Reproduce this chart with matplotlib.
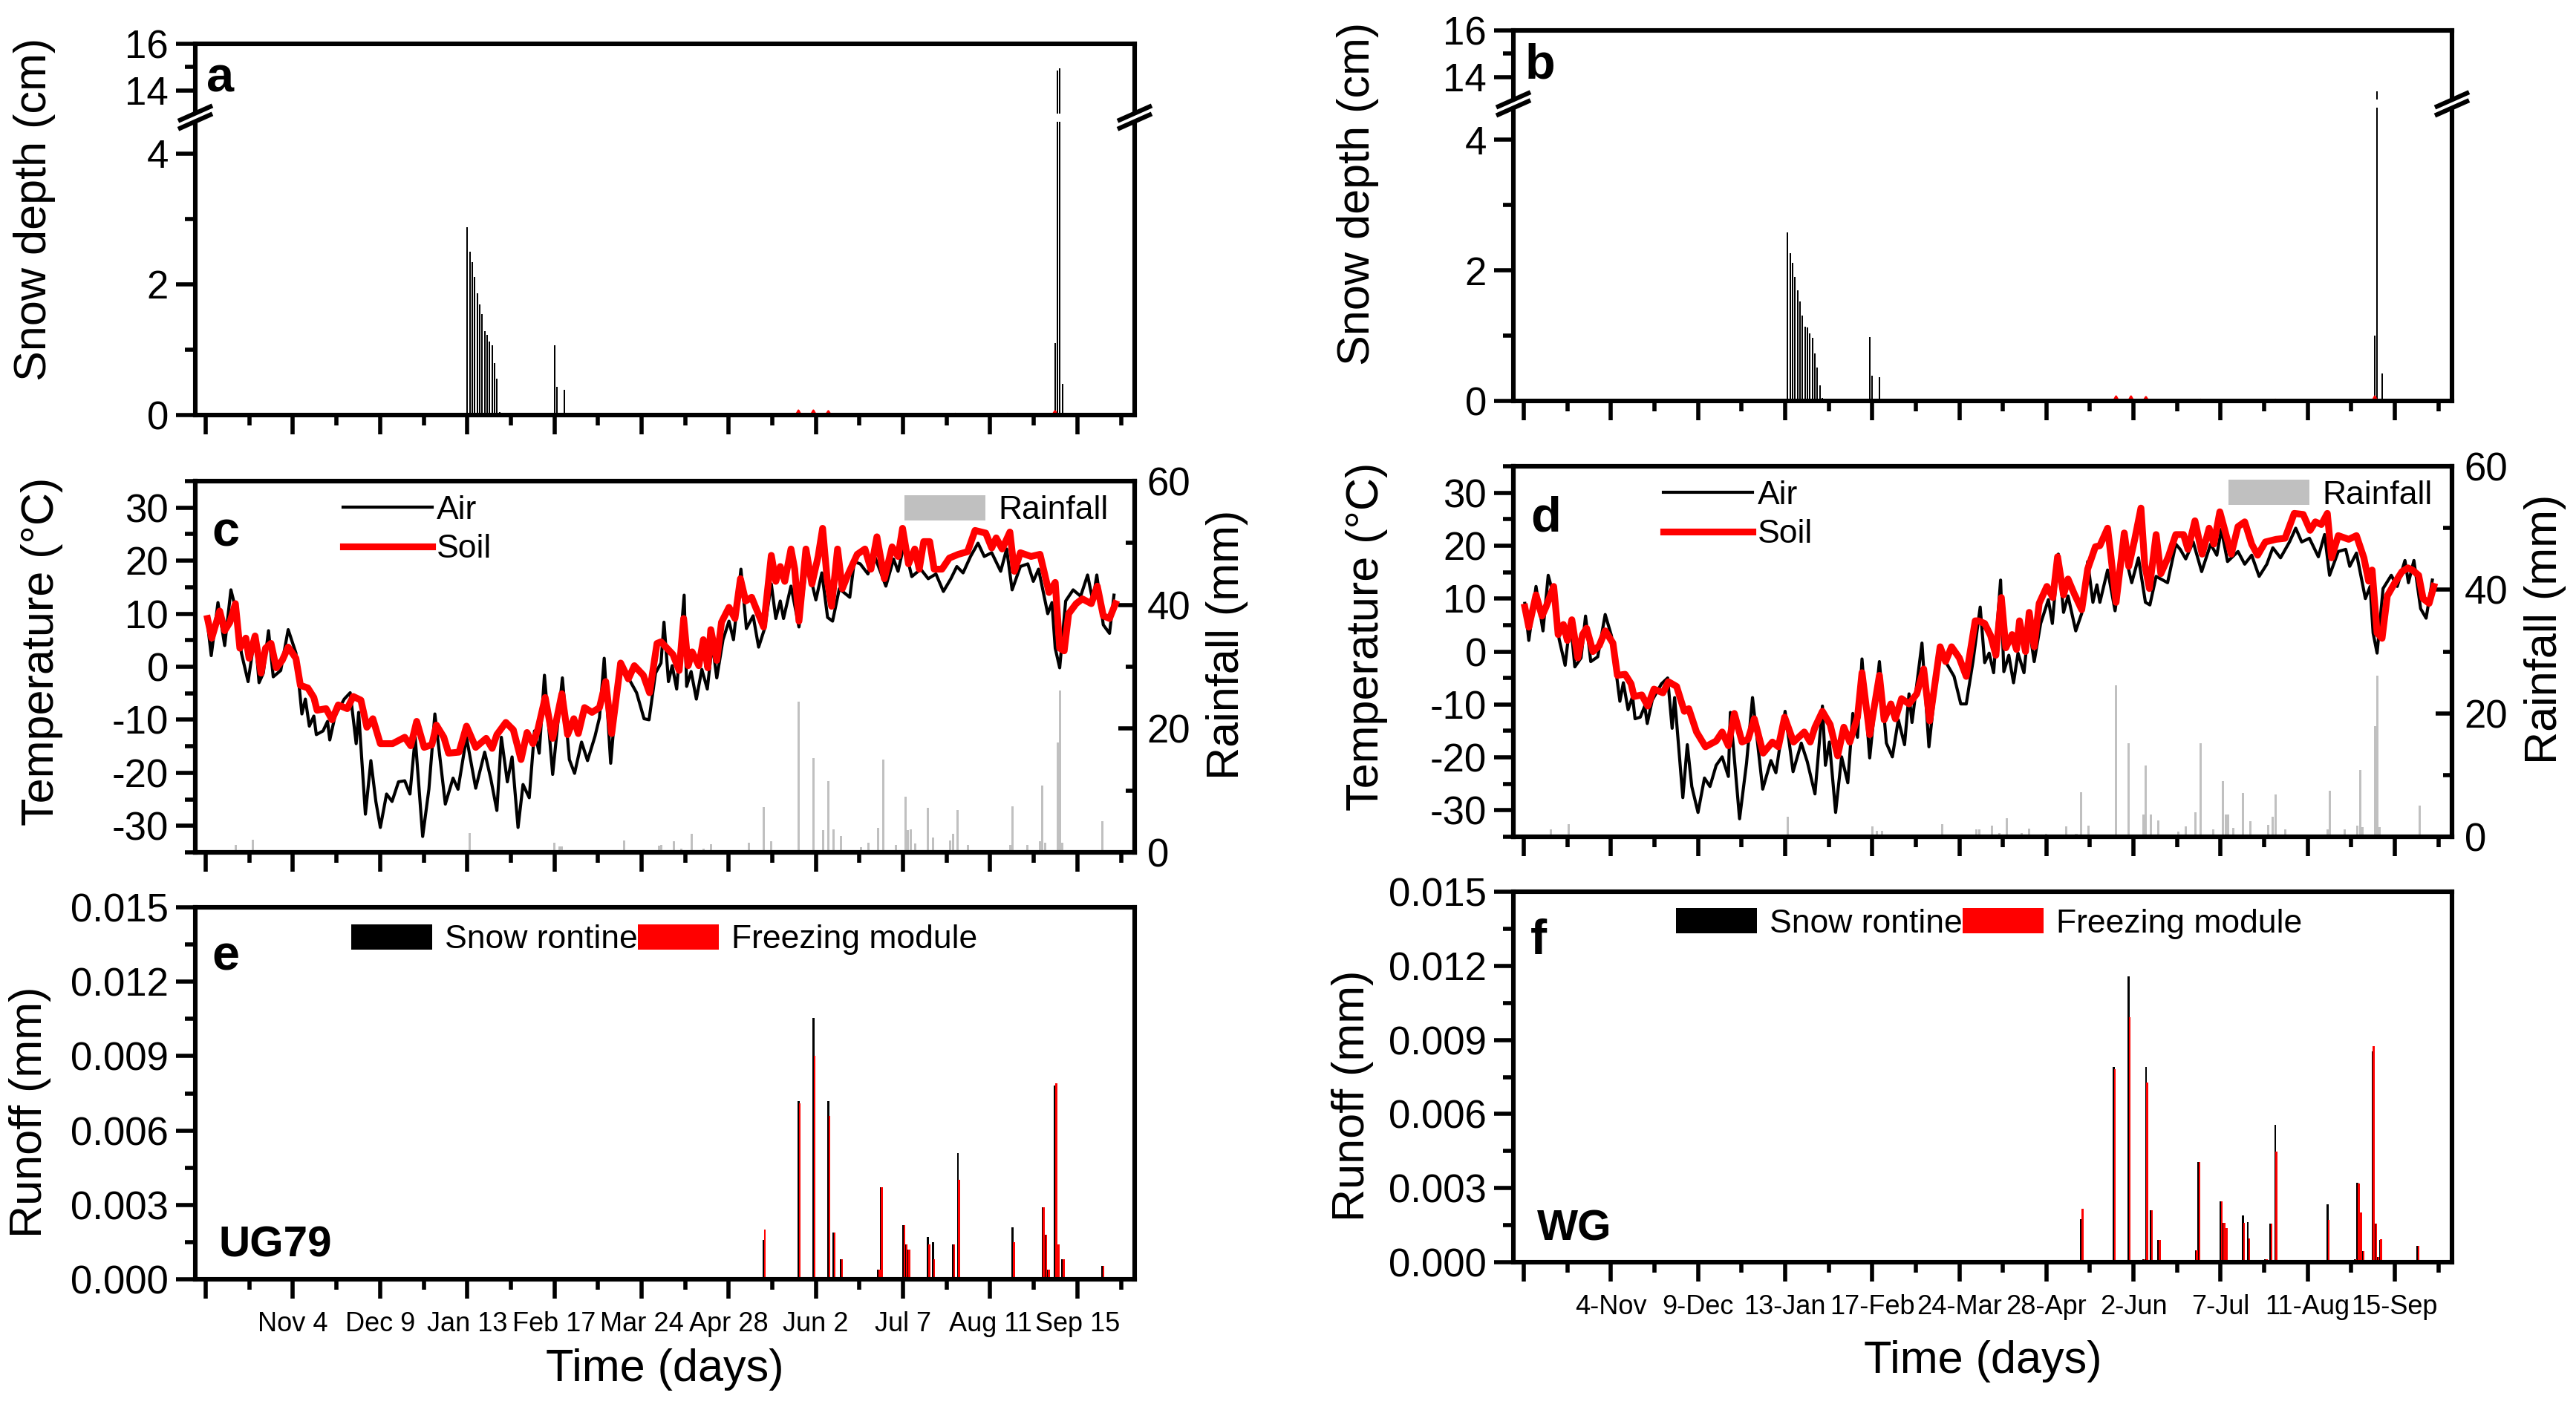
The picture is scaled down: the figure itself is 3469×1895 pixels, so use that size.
import numpy as np
import matplotlib
matplotlib.use('Agg')
import matplotlib.pyplot as plt
from matplotlib.ticker import MultipleLocator, FormatStrFormatter
from matplotlib.patches import Rectangle, Patch
from matplotlib.lines import Line2D

plt.rcParams['font.family'] = ['Liberation Sans', 'DejaVu Sans']
plt.rcParams['axes.unicode_minus'] = False

# ---------------- data ----------------
# x axis = days since 30 Sep
tick_labels_e = ['', 'Nov 4', 'Dec 9', 'Jan 13', 'Feb 17', 'Mar 24', 'Apr 28',
                 'Jun 2', 'Jul 7', 'Aug 11', 'Sep 15']
tick_labels_f = ['', '4-Nov', '9-Dec', '13-Jan', '17-Feb', '24-Mar', '28-Apr',
                 '2-Jun', '7-Jul', '11-Aug', '15-Sep']

# snow depth (cm), UG79 (a) and WG (b)
snow_a_day = [105, 106, 107, 108, 109, 110, 111, 112, 113, 114, 115, 116, 117, 118,
              140, 141, 144, 341, 342, 343, 344]
snow_a_cm = [2.87, 2.50, 2.34, 2.11, 1.86, 1.69, 1.54, 1.28, 1.23, 1.12, 1.07, 0.80, 0.56, 0.05,
             1.07, 0.43, 0.39, 1.10, 14.85, 14.95, 0.48]
snow_a_red_day = [238, 244, 250, 301, 322, 341]
snow_a_red_cm = [0.07, 0.07, 0.06, 0.02, 0.02, 0.06]

snow_b_day = [106, 107, 108, 109, 110, 111, 112, 113, 114, 115, 116, 117, 118, 119, 120,
              139, 140, 143, 342, 343, 345]
snow_b_cm = [2.58, 2.26, 2.11, 1.90, 1.69, 1.52, 1.31, 1.14, 1.13, 1.03, 0.97, 0.73, 0.51, 0.24, 0.05,
             0.98, 0.39, 0.36, 1.00, 13.4, 0.42]
snow_b_red_day = [238, 244, 250, 272, 302, 342]
snow_b_red_cm = [0.07, 0.07, 0.06, 0.02, 0.02, 0.07]

# temperature (degC), panel c
c_air_day = [0.7, 2.2, 4.9, 7.6, 10.1, 12.5, 14.3, 17.0, 19.8, 21.4, 23.1, 25.2, 27.1, 30.1, 33.1,
             36.2, 38.6, 40.0, 41.6, 43.4, 44.4, 47.1, 48.9, 49.8, 51.9, 55.6, 58.0, 60.4, 61.4,
             64.1, 66.3, 68.3, 70.1, 72.6, 74.8, 77.4, 79.9, 82.0, 84.1, 87.1, 89.6, 92.0, 96.2,
             99.3, 101.3, 104.7, 108.4, 112.0, 114.4, 116.9, 118.7, 121.1, 123.0, 125.4, 127.4,
             129.9, 132.0, 133.9, 136.0, 139.3, 143.2, 146.0, 148.1, 150.9, 153.3, 156.3, 158.1,
             160.0, 162.6, 166.0, 169.7, 173.0, 176.0, 178.0, 180.6, 182.8, 184.0, 185.8, 187.3,
             189.1, 192.1, 193.1, 194.9, 197.0, 199.2, 201.4, 203.4, 205.2, 207.7, 210.1, 211.9,
             214.9, 217.1, 219.8, 222.0, 224.4, 227.1, 228.9, 230.7, 232.0, 235.0, 238.2, 241.4,
             245.0, 247.4, 249.7, 251.7, 254.4, 258.6, 260.4, 262.8, 265.9, 268.3, 273.1, 276.2,
             278.0, 280.4, 283.5, 287.1, 290.1, 293.2, 296.2, 299.2, 301.6, 304.1, 307.1, 310.1,
             312.6, 315.6, 319.2, 321.6, 323.8, 327.1, 330.1, 332.3, 334.4, 338.1, 339.8, 341.1,
             342.9, 345.3, 348.3, 351.3, 354.1, 356.2, 357.8, 360.4, 362.9, 364.7]
c_air_t = [8.2, 2.1, 12.1, 4.0, 14.5, 10.0, 2.6, -2.8, 6.1, -3.0, -1.2, 6.8, -1.9, -0.7, 7.0,
           2.6, -8.9, -6.1, -11.2, -9.3, -12.8, -12.1, -10.3, -13.8, -9.3, -6.1, -4.9, -14.5, -8.6,
           -27.8, -17.7, -25.4, -30.3, -24.0, -25.4, -21.7, -21.5, -24.0, -13.3, -32.0, -23.1, -8.9, -25.9,
           -21.0, -23.1, -13.3, -22.9, -16.1, -21.0, -27.1, -13.3, -21.7, -17.0, -30.3, -22.2,
           -24.7, -12.1, -16.3, -1.6, -20.3, -2.1, -17.5, -20.1, -14.2, -17.7, -13.1, -9.6,
           1.6, -18.2, 0.7, -2.1, -4.9, -9.8, -10.0, -1.2, 0.7, 8.4, -2.8, 0.2,
           -4.2, 13.5, -3.7, -0.9, -6.1, -0.5, -4.2, 4.4, -2.1, 5.1, 8.6, 5.1,
           18.4, 7.2, 9.6, 3.7, 7.2, 15.6, 9.1, 12.4, 9.1, 15.2, 7.5, 19.8,
           12.6, 17.7, 9.3, 8.6, 14.7, 13.1, 19.8, 19.4, 17.5, 21.2, 15.2, 20.3,
           18.0, 23.1, 17.0, 18.4, 16.6, 17.5, 14.2, 16.6, 18.9, 17.7, 20.8, 23.3,
           20.8, 21.5, 18.0, 22.2, 14.5, 18.9, 19.4, 16.1, 18.4, 10.0, 12.1, 3.5,
           -0.2, 12.4, 14.5, 13.3, 17.3, 12.4, 17.3, 7.9, 6.3, 13.5]
c_soil_day = [0.7, 2.4, 5.6, 7.6, 9.7, 11.9, 13.7, 16.1, 17.4, 19.8, 22.2, 24.0, 26.2, 28.3, 30.7,
              33.1, 36.2, 38.0, 41.0, 43.4, 44.7, 48.3, 50.7, 53.2, 56.8, 59.2, 62.3, 64.7, 67.1,
              70.1, 75.0, 79.9, 82.3, 84.7, 87.7, 90.8, 92.6, 95.6, 97.5, 101.7, 104.7, 108.4, 112.6,
              115.0, 116.9, 120.5, 123.5, 126.6, 129.0, 131.4, 133.3, 136.3, 139.3, 143.0, 145.3,
              147.8, 149.6, 152.1, 155.1, 158.1, 160.6, 163.0, 166.6, 169.7, 172.1, 175.7, 178.2,
              181.2, 182.8, 185.2, 187.6, 190.1, 191.9, 193.7, 195.3, 198.0, 199.8, 201.6, 202.8,
              205.2, 207.1, 210.1, 212.5, 214.7, 216.8, 219.2, 221.0, 224.0, 227.1, 228.9, 230.7,
              232.5, 235.0, 236.5, 238.2, 241.0, 243.4, 245.9, 247.7, 249.5, 251.3, 253.7, 255.6,
              258.0, 261.6, 264.7, 267.1, 269.5, 272.5, 275.6, 278.0, 279.8, 282.2, 284.7, 286.5,
              288.3, 290.7, 292.5, 295.6, 298.6, 302.2, 305.9, 308.9, 313.2, 315.6, 317.4, 319.8,
              322.9, 324.7, 327.1, 331.4, 335.0, 338.6, 341.1, 342.9, 344.7, 346.5, 349.5, 352.0,
              355.6, 358.0, 360.4, 362.9, 365.3]
c_soil_t = [9.1, 5.4, 10.5, 6.8, 8.4, 11.9, 3.5, 5.4, 1.6, 5.8, -1.2, 3.5, 4.4, -0.2, 1.2,
            3.7, 1.6, -3.5, -4.0, -5.8, -8.2, -7.9, -10.0, -7.2, -7.9, -5.6, -6.3, -11.4, -9.8,
            -14.5, -14.5, -13.3, -14.9, -10.3, -15.2, -14.7, -11.0, -13.3, -16.3, -16.1, -11.2, -15.2, -13.5,
            -15.4, -12.8, -10.5, -11.9, -17.5, -12.4, -14.5, -11.9, -5.8, -13.5, -5.1, -12.8,
            -9.8, -12.6, -7.7, -8.6, -7.7, -2.8, -12.6, 0.7, -2.3, 0.2, -1.6, -4.9,
            4.4, 4.7, 3.5, 2.3, -0.7, 9.1, 0.2, 2.8, 0.2, 5.1, -0.2, 7.0,
            1.2, 8.4, 11.2, 9.1, 16.6, 12.4, 13.1, 11.0, 7.5, 21.0, 16.1, 18.9,
            16.1, 22.2, 18.4, 8.6, 22.2, 15.6, 20.8, 26.1, 16.6, 11.4, 22.2, 14.7,
            17.5, 21.2, 22.2, 18.4, 24.5, 16.6, 22.6, 20.8, 26.1, 19.4, 22.2, 18.4,
            23.6, 23.6, 18.4, 18.4, 20.5, 21.2, 21.7, 25.7, 25.2, 22.4, 24.3, 22.2,
            25.4, 18.0, 21.5, 20.8, 21.2, 14.0, 15.9, 3.5, 3.0, 10.0, 11.9, 12.8,
            11.9, 15.2, 9.6, 9.1, 11.9]

# temperature (degC), panel d
d_air_day = [0.4, 2.0, 4.9, 7.7, 9.8, 12.0, 14.2, 16.6, 18.7, 20.5, 23.0, 24.8, 26.9, 29.7, 32.7,
             35.2, 38.6, 40.0, 41.9, 43.7, 44.7, 46.8, 48.6, 49.6, 51.6, 55.3, 57.8, 59.6, 60.6,
             63.9, 65.7, 67.5, 70.0, 72.6, 74.8, 77.3, 79.7, 82.2, 83.0, 86.7, 89.5, 91.9, 96.0,
             99.3, 101.3, 105.0, 108.2, 111.5, 113.9, 117.0, 120.0, 121.2, 122.8, 125.3, 127.7,
             130.2, 132.2, 134.1, 135.9, 139.0, 142.9, 145.7, 148.1, 150.5, 153.0, 154.8, 156.0,
             160.0, 162.8, 167.0, 169.2, 172.9, 175.6, 177.8, 180.5, 183.4, 185.2, 187.0, 188.8,
             191.6, 192.9, 194.9, 196.8, 198.6, 201.0, 202.9, 205.1, 207.7, 210.8, 212.4, 214.8,
             216.9, 218.7, 221.8, 224.2, 226.6, 228.7, 230.3, 231.5, 234.6, 237.6, 241.0, 244.3,
             247.0, 249.8, 251.6, 254.1, 258.7, 262.0, 263.8, 266.0, 269.0, 272.4, 276.0, 278.5,
             280.3, 282.8, 287.0, 289.7, 292.5, 295.5, 298.6, 301.0, 304.1, 307.7, 310.2, 312.6,
             315.7, 319.3, 321.8, 323.8, 327.3, 330.3, 331.9, 334.6, 338.2, 340.1, 341.3, 342.9,
             345.3, 348.6, 351.0, 354.1, 355.5, 357.7, 360.4, 362.6, 365.1]
d_air_t = [9.1, 2.1, 12.3, 3.9, 14.4, 10.5, 2.3, -2.6, 6.0, -2.9, -1.2, 6.7, -1.9, -1.0, 7.0,
           3.0, -9.4, -5.9, -11.0, -8.5, -12.7, -12.4, -10.3, -13.6, -9.2, -6.1, -5.0, -14.5, -8.7,
           -27.6, -17.6, -25.5, -30.4, -23.9, -25.5, -21.5, -19.9, -23.6, -11.5, -31.6, -21.1, -8.7, -26.0,
           -20.6, -22.9, -11.3, -22.7, -17.3, -20.8, -26.9, -10.3, -21.5, -17.1, -30.4, -19.9,
           -24.8, -11.7, -16.2, -1.4, -20.1, -1.9, -17.3, -19.9, -12.9, -17.6, -8.0, -13.4,
           1.6, -18.0, 0.4, -1.7, -4.7, -9.9, -9.9, -1.9, 8.4, -2.1, -0.3, -4.0,
           13.5, -3.8, -0.7, -5.9, -0.3, -4.0, 5.1, -1.9, 5.3, 9.8, 5.3, 18.4,
           7.4, 10.5, 3.9, 7.2, 17.0, 9.3, 12.6, 9.3, 15.4, 7.7, 19.6, 13.0,
           17.7, 9.3, 8.8, 14.2, 13.0, 20.3, 19.3, 17.5, 20.7, 15.1, 20.3, 18.2,
           23.1, 17.0, 18.9, 16.5, 18.2, 14.2, 16.5, 19.6, 17.7, 20.7, 23.3, 20.7,
           21.4, 17.9, 22.1, 14.4, 18.9, 19.3, 16.1, 18.6, 10.0, 12.3, 3.5, -0.3,
           11.9, 14.4, 12.3, 17.2, 13.0, 17.2, 8.1, 6.3, 13.5]
d_soil_day = [0.4, 2.0, 4.9, 7.3, 8.9, 12.0, 13.8, 15.9, 17.5, 19.3, 21.7, 23.6, 25.2, 27.8, 30.3,
              32.7, 35.8, 37.6, 40.7, 43.1, 44.3, 47.4, 49.8, 52.3, 55.9, 58.1, 61.4, 64.5, 66.3,
              69.4, 73.0, 77.3, 79.7, 82.2, 84.6, 87.7, 90.1, 92.6, 96.2, 99.9, 102.3, 104.8, 108.4,
              112.7, 115.1, 117.0, 120.0, 123.1, 126.1, 128.6, 131.0, 134.1, 135.9, 139.0, 142.9,
              144.8, 147.5, 149.3, 151.8, 154.8, 157.9, 160.7, 163.1, 167.3, 169.5, 171.9, 175.0,
              177.8, 181.4, 182.7, 185.2, 187.6, 189.7, 191.9, 193.7, 196.2, 198.0, 199.2, 201.6,
              203.1, 205.1, 207.1, 210.2, 212.6, 214.5, 216.9, 218.7, 221.2, 224.2, 226.6, 229.7,
              231.5, 234.6, 235.8, 238.0, 241.3, 243.1, 245.5, 248.0, 249.5, 251.4, 254.1, 256.0,
              259.0, 262.0, 265.1, 266.9, 269.7, 272.6, 275.4, 277.3, 279.7, 281.9, 284.3, 287.0,
              289.7, 292.5, 294.9, 298.0, 302.3, 305.9, 309.6, 313.2, 316.0, 318.1, 320.5, 322.9,
              324.6, 327.3, 331.5, 334.6, 337.6, 339.5, 340.9, 342.9, 344.9, 347.0, 349.8, 352.9,
              355.3, 357.1, 359.6, 361.4, 363.8, 365.7]
d_soil_t = [8.4, 4.6, 10.7, 6.7, 8.4, 12.3, 3.2, 5.1, 2.1, 6.0, -1.2, 3.2, 4.4, 0.0, 1.1,
            3.9, 1.6, -4.5, -4.3, -6.1, -8.5, -8.2, -10.3, -7.1, -7.8, -5.7, -6.6, -11.3, -10.8,
            -15.2, -18.0, -16.9, -15.2, -17.8, -11.7, -17.1, -16.6, -12.7, -19.2, -17.1, -18.0, -12.4, -17.1,
            -15.2, -17.1, -14.3, -11.3, -13.8, -19.7, -14.3, -17.1, -12.4, -4.0, -15.7, -4.5,
            -12.9, -9.9, -12.7, -8.9, -9.9, -8.0, -3.3, -13.1, 0.9, -1.9, 0.9, -1.2,
            -4.7, 5.8, 5.8, 5.3, 3.0, -0.7, 10.2, 0.7, 3.2, 0.4, 5.8, 0.0,
            7.4, 0.9, 9.1, 12.3, 10.2, 17.9, 10.7, 13.7, 10.9, 7.9, 15.6, 19.8,
            20.0, 23.3, 18.6, 9.3, 22.4, 16.1, 21.2, 27.1, 16.5, 11.9, 22.1, 14.7,
            17.9, 22.1, 22.1, 19.3, 24.7, 18.4, 23.3, 20.3, 26.4, 22.6, 18.4, 23.6,
            24.5, 20.3, 18.2, 20.7, 21.2, 21.4, 26.1, 25.9, 22.9, 24.5, 24.0, 26.1,
            17.7, 21.9, 21.2, 21.9, 17.7, 13.3, 15.4, 3.5, 2.5, 10.5, 12.8, 15.1,
            15.8, 15.4, 14.4, 10.0, 9.1, 12.3]

# rainfall (mm)
c_rain_day = [12, 19, 26, 106, 136, 140, 142, 143, 168, 176, 182, 183, 188, 191, 195, 200, 203,
              211, 218, 222, 224, 227, 238, 244, 248, 250, 252, 255, 263, 266, 270, 272, 277,
              281, 282, 283, 285, 290, 292, 299, 300, 302, 306, 315, 318, 323, 324, 330, 335,
              336, 337, 342, 343, 344, 352, 360]
c_rain_mm = [1.2, 2.0, 0.4, 3.1, 0.3, 1.6, 1.0, 1.0, 1.9, 0.3, 1.1, 1.2, 1.8, 0.6, 3.0, 0.6, 1.3,
             0.4, 1.6, 0.4, 7.3, 1.8, 24.4, 15.2, 3.6, 11.5, 3.7, 2.6, 0.8, 1.6, 4.0, 15.0, 1.2,
             9.0, 3.6, 3.7, 1.4, 7.2, 2.4, 1.9, 3.0, 6.9, 1.2, 0.3, 0.3, 1.2, 7.4, 1.2, 1.8,
             10.8, 1.6, 17.8, 26.2, 1.6, 0.3, 5.0]
d_rain_day = [11, 18, 25, 106, 135, 140, 142, 144, 168, 175, 182, 183, 188, 191, 194, 200, 203,
              210, 218, 222, 224, 227, 238, 243, 249, 250, 252, 255, 263, 266, 270, 272, 277,
              281, 282, 283, 285, 289, 292, 299, 301, 302, 306, 323, 324, 330, 335, 336, 337,
              342, 343, 344, 352, 360]
d_rain_mm = [1.2, 2.1, 0.4, 3.2, 0.3, 1.7, 1.0, 1.0, 2.0, 0.3, 1.2, 1.2, 1.8, 0.6, 3.0, 0.6, 1.3,
             0.5, 1.7, 0.5, 7.2, 1.8, 24.5, 15.2, 3.6, 11.6, 3.6, 2.6, 0.8, 1.7, 4.0, 15.2, 1.2,
             9.0, 3.6, 3.6, 1.4, 7.1, 2.5, 1.9, 3.2, 6.8, 1.2, 1.2, 7.4, 1.2, 1.8, 10.8, 1.6,
             17.9, 26.1, 1.6, 0.3, 5.0]

# runoff (mm): snow routine (black) and freezing module (red)
e_day = [192, 224, 238, 244, 249, 250, 252, 255, 270, 271, 280, 281, 282, 290, 292, 299, 300, 302,
         324, 330, 335, 336, 337, 338, 341, 342, 343, 344, 360]
e_snow = [0.0, 0.0016, 0.0072, 0.01053, 0.0001, 0.0072, 0.0019, 0.0008, 0.0004, 0.0037, 0.0022,
          0.0014, 0.0012, 0.0017, 0.0015, 0.0001, 0.0014, 0.0051, 0.0021, 0.00005, 0.0001, 0.0029,
          0.0018, 0.0004, 0.0078, 0.0014, 0.0001, 0.0008, 0.00055]
e_freeze = [0.0001, 0.0020, 0.0071, 0.0090, 0.0001, 0.0066, 0.0019, 0.0008, 0.0004, 0.0037, 0.0022,
            0.0014, 0.0012, 0.0014, 0.0008, 0.0001, 0.0014, 0.0040, 0.0015, 0.00005, 0.0001, 0.0029,
            0.0018, 0.0004, 0.0079, 0.0014, 0.0001, 0.0008, 0.00055]
f_day = [192, 224, 237, 243, 249, 250, 252, 255, 270, 271, 280, 281, 282, 289, 291, 298, 300, 302,
         323, 330, 334, 335, 336, 337, 341, 342, 343, 344, 359]
f_snow = [0.0, 0.00175, 0.0079, 0.01157, 0.00013, 0.00791, 0.00209, 0.00089, 0.00047, 0.00405, 0.00247,
          0.0016, 0.00137, 0.0019, 0.00163, 0.00013, 0.00157, 0.00557, 0.00235, 0.00005, 0.00013, 0.00322,
          0.0020, 0.00045, 0.00855, 0.00155, 0.0002, 0.0009, 0.00065]
f_freeze = [0.0001, 0.00217, 0.00783, 0.00993, 0.00013, 0.00728, 0.00209, 0.00089, 0.00047, 0.00405, 0.00245,
            0.0016, 0.00137, 0.0016, 0.00095, 0.00013, 0.00157, 0.00449, 0.0017, 0.00005, 0.00013, 0.0032,
            0.0020, 0.00045, 0.00875, 0.00155, 0.0002, 0.00093, 0.00065]

# ---------------- figure ----------------
W, H = 3469, 1895
fig = plt.figure(figsize=(W / 200, H / 200), dpi=200)

SPINE = 2.2
TICK_FS = 19
XTICK_FS = 13
LABEL_FS = 22
LEG_FS = 16
RAIN_GREY = '#c0c0c0'

# broken snow axis: 0-4.55 linear, 12.85-16 compressed
B0, U0, K = 4.55, 12.85, 0.357


def fwd(y):
    y = np.asarray(y, dtype=float)
    return np.where(y <= B0, y, np.where(y >= U0, B0 + (y - U0) * K, B0))


def inv(z):
    z = np.asarray(z, dtype=float)
    return np.where(z <= B0, z, U0 + (z - B0) / K)


def add_ax(l, t, r, b):
    return fig.add_axes([l / W, 1 - b / H, (r - l) / W, (b - t) / H])


def style_common(ax, xlabels=None):
    for s in ax.spines.values():
        s.set_linewidth(SPINE)
    ax.set_xlim(-4.2, 373)
    ax.set_xticks(np.arange(0, 351, 35))
    ax.xaxis.set_minor_locator(MultipleLocator(17.5))
    ax.tick_params(which='major', direction='out', length=9.5, width=2, labelsize=TICK_FS,
                   top=False, right=False)
    ax.tick_params(which='minor', direction='out', length=5, width=2, top=False, right=False)
    if xlabels is None:
        ax.set_xticklabels([])
    else:
        ax.set_xticklabels(xlabels, fontsize=XTICK_FS)
        ax.tick_params(axis='x', which='major', pad=6)


def snow_panel(ax, day, cm, red_day, red_cm, letter, lab_x, lab_y):
    ax.set_yscale('function', functions=(fwd, inv))
    ax.bar(day, cm, width=0.6, color='black', linewidth=0)
    red = np.zeros(367)
    red[red_day] = red_cm
    ax.plot(np.arange(367), red, color='red', lw=1.0)
    ax.set_ylim(0, 16)
    ax.set_yticks([0, 2, 4, 14, 16])
    ax.set_yticks([1, 3, 15], minor=True)
    style_common(ax)
    ax.set_ylabel('Snow depth (cm)', fontsize=LABEL_FS)
    ax.yaxis.set_label_coords(lab_x, lab_y)
    ax.text(0.012, 0.905, letter, transform=ax.transAxes, fontsize=24, fontweight='bold',
            va='center', ha='left')
    # break marks
    yb = float(fwd(B0) / fwd(16))
    ax.add_patch(Rectangle((-0.03, yb - 0.011), 1.06, 0.022, transform=ax.transAxes,
                           facecolor='white', edgecolor='none', zorder=5, clip_on=False))
    for x0 in (0, 1):
        for dy in (-0.011, 0.011):
            ax.plot([x0 - 0.016, x0 + 0.016], [yb + dy - 0.018, yb + dy + 0.018],
                    transform=ax.transAxes, color='black', lw=2.2, clip_on=False, zorder=6)


def temp_panel(ax, air_d, air_t, soil_d, soil_t, rain_d, rain_mm, letter,
               lab_x, lab_y, rlab_x, leg_x, rleg_x):
    ax2 = ax.twinx()
    ax2.bar(rain_d, rain_mm, width=0.9, color=RAIN_GREY, linewidth=0)
    ax2.set_ylim(0, 60)
    ax2.yaxis.set_major_locator(MultipleLocator(20))
    ax2.yaxis.set_minor_locator(MultipleLocator(10))
    ax2.tick_params(which='major', direction='in', length=8, width=2, labelsize=TICK_FS, pad=6)
    ax2.tick_params(which='minor', direction='in', length=4.5, width=2)
    for s in ax2.spines.values():
        s.set_linewidth(SPINE)
    ax2.set_ylabel('Rainfall (mm)', fontsize=LABEL_FS)
    ax2.yaxis.set_label_coords(rlab_x, 0.56)
    ax2.legend(handles=[Patch(facecolor=RAIN_GREY, edgecolor='none', label='Rainfall')],
               loc='upper left', bbox_to_anchor=(rleg_x, 0.963), frameon=False,
               fontsize=LEG_FS, handlelength=2.45, handleheight=0.8, handletextpad=0.4,
               borderpad=0, borderaxespad=0)

    ax.set_zorder(ax2.get_zorder() + 1)
    ax.patch.set_visible(False)
    ax.plot(air_d, air_t, color='black', lw=1.5, solid_joinstyle='round', label='Air')
    ax.plot(soil_d, soil_t, color='red', lw=3.3, solid_joinstyle='round', label='Soil')
    ax.set_ylim(-35, 35)
    ax.yaxis.set_major_locator(MultipleLocator(10))
    ax.yaxis.set_minor_locator(MultipleLocator(5))
    style_common(ax)
    ax.set_ylabel('Temperature (°C)', fontsize=LABEL_FS)
    ax.yaxis.set_label_coords(lab_x, lab_y)
    ax.text(0.018, 0.858, letter, transform=ax.transAxes, fontsize=24, fontweight='bold',
            va='center', ha='left')
    ax.legend(handles=[Line2D([], [], color='black', lw=1.5, label='Air'),
                       Line2D([], [], color='red', lw=3.3, label='Soil')],
              loc='upper left', bbox_to_anchor=(leg_x, 0.962), frameon=False,
              fontsize=LEG_FS, handlelength=2.7, handletextpad=0.15, labelspacing=0.25,
              borderpad=0, borderaxespad=0)


def runoff_panel(ax, day, snow, freeze, letter, site, xlabels, lab_x, lab_y, tlab_y, leg_x):
    day = np.asarray(day, dtype=float)
    ax.bar(day, snow, width=0.75, color='black', linewidth=0)
    ax.bar(day + 0.5, freeze, width=0.75, color='red', linewidth=0)
    ax.set_ylim(0, 0.015)
    ax.yaxis.set_major_locator(MultipleLocator(0.003))
    ax.yaxis.set_minor_locator(MultipleLocator(0.0015))
    ax.yaxis.set_major_formatter(FormatStrFormatter('%.3f'))
    style_common(ax, xlabels)
    ax.set_ylabel('Runoff (mm)', fontsize=LABEL_FS)
    ax.yaxis.set_label_coords(lab_x, lab_y)
    ax.set_xlabel('Time (days)', fontsize=LABEL_FS)
    ax.xaxis.set_label_coords(0.5, tlab_y)
    ax.text(0.018, 0.865, letter, transform=ax.transAxes, fontsize=24, fontweight='bold',
            va='center', ha='left')
    ax.text(0.025, 0.09, site, transform=ax.transAxes, fontsize=21, fontweight='bold',
            va='center', ha='left')
    ax.legend(handles=[Patch(facecolor='black', edgecolor='none', label='Snow rontine'),
                       Patch(facecolor='red', edgecolor='none', label='Freezing module')],
              loc='upper left', bbox_to_anchor=(leg_x, 0.955), ncol=2, frameon=False,
              fontsize=LEG_FS, handlelength=2.45, handleheight=0.8, handletextpad=0.39,
              columnspacing=0.0, borderpad=0, borderaxespad=0)


ax_a = add_ax(263, 59, 1528, 559)
ax_c = add_ax(263, 648, 1528, 1148)
ax_e = add_ax(263, 1222, 1528, 1723)
ax_b = add_ax(2038, 41, 3302, 540)
ax_d = add_ax(2038, 628, 3302, 1127)
ax_f = add_ax(2038, 1201, 3302, 1700)

snow_panel(ax_a, snow_a_day, snow_a_cm, snow_a_red_day, snow_a_red_cm, 'a', -0.149, 0.554)
snow_panel(ax_b, snow_b_day, snow_b_cm, snow_b_red_day, snow_b_red_cm, 'b', -0.143, 0.56)

temp_panel(ax_c, c_air_day, c_air_t, c_soil_day, c_soil_t, c_rain_day, c_rain_mm, 'c',
           -0.141, 0.542, 1.076, 0.157, 0.755)
temp_panel(ax_d, d_air_day, d_air_t, d_soil_day, d_soil_t, d_rain_day, d_rain_mm, 'd',
           -0.134, 0.54, 1.077, 0.16, 0.762)

runoff_panel(ax_e, e_day, e_snow, e_freeze, 'e', 'UG79', tick_labels_e, -0.153, 0.45, -0.185, 0.166)
runoff_panel(ax_f, f_day, f_snow, f_freeze, 'f', 'WG', tick_labels_f, -0.149, 0.45, -0.21, 0.173)

fig.savefig('out.png', dpi=200)
